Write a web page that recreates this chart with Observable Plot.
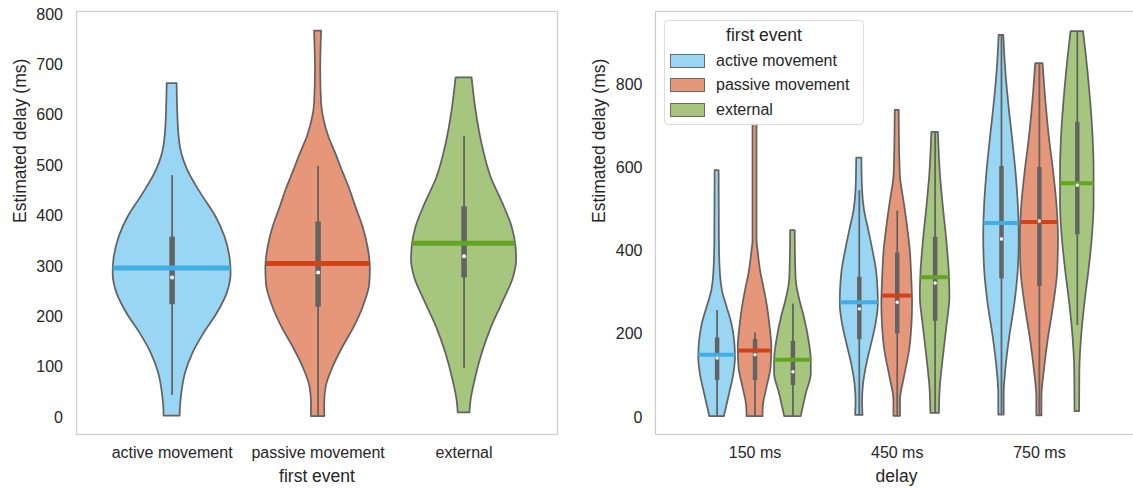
<!DOCTYPE html>
<html><head><meta charset="utf-8">
<script src="https://cdn.jsdelivr.net/npm/d3@7"></script>
<script src="https://cdn.jsdelivr.net/npm/@observablehq/plot@0.6"></script>
<style>
body{margin:0;background:#fff;overflow:hidden;font-family:"Liberation Sans",Arial,sans-serif;}
#wrap{position:relative;width:1133px;height:488px;overflow:hidden;background:#fff;}
#left{position:absolute;left:0;top:0;width:566px;}
#right{position:absolute;left:566px;top:0;width:580px;}
#wrap svg{max-width:none !important;height:488px !important;display:block;}
.legend{position:absolute;left:664px;top:20px;width:200px;height:105px;box-sizing:border-box;border:1px solid #dcdcdc;border-radius:4px;background:rgba(255,255,255,0.85);color:#262626;}
.legend .title{position:absolute;left:0;width:100%;top:3px;text-align:center;font-size:17.5px;line-height:22px;}
.legend .entry{position:absolute;left:5px;height:20px;}
.legend .patch{position:absolute;left:0;top:3px;width:33px;height:12px;border:1px solid #6a6a6a;}
.legend .lab{position:absolute;left:46px;top:0px;font-size:16px;line-height:20px;white-space:nowrap;}
</style></head>
<body>
<div id="wrap"><div id="left"></div><div id="right"></div><div class="legend" id="legend"></div></div>
<script>
// ---------- data ----------
const firstEvents = ["active movement", "passive movement", "external"];
const delays = ["150 ms", "450 ms", "750 ms"];
const fillColors = ["#98d6f3", "#e6977a", "#a6c67e"];
const meanColors = ["#41ade5", "#d0421a", "#64a423"];
const yTicksLeft = [0, 100, 200, 300, 400, 500, 600, 700, 800];
const yTicksRight = [0, 200, 400, 600, 800];

// violin outlines: [estimated delay (ms), half width (category units)]
const shapeActive = [[663,0.034],[576,0.043],[524,0.066],[490,0.108],[444,0.199],[398,0.301],[358,0.363],[312,0.399],[286,0.404],[246,0.377],[206,0.308],[167,0.219],[127,0.142],[87,0.091],[47,0.066],[20,0.057],[3,0.055]];
const shapePassive = [[767,0.024],[689,0.018],[623,0.024],[590,0.041],[556,0.075],[524,0.121],[490,0.166],[457,0.212],[417,0.260],[378,0.308],[338,0.342],[298,0.358],[265,0.354],[226,0.318],[179,0.247],[140,0.171],[100,0.103],[60,0.055],[27,0.045],[2,0.046]];
const shapeExternal = [[674,0.055],[609,0.082],[543,0.123],[477,0.185],[424,0.267],[378,0.329],[338,0.356],[312,0.360],[279,0.340],[232,0.271],[179,0.188],[126,0.123],[73,0.075],[34,0.048],[9,0.040]];

const shape150Active = [[593,0.014],[425,0.016],[346,0.023],[305,0.037],[265,0.070],[225,0.104],[185,0.123],[145,0.129],[105,0.118],[57,0.088],[2,0.051]];
const shape150Passive = [[705,0.014],[425,0.014],[401,0.021],[346,0.042],[305,0.067],[265,0.088],[217,0.106],[169,0.118],[121,0.113],[73,0.085],[25,0.058],[2,0.056]];
const shape150External = [[449,0.016],[385,0.018],[329,0.023],[281,0.049],[241,0.080],[185,0.113],[137,0.129],[105,0.129],[57,0.094],[2,0.058]];
const shape450Active = [[623,0.018],[545,0.023],[497,0.037],[449,0.067],[401,0.096],[353,0.121],[305,0.132],[273,0.134],[225,0.118],[177,0.087],[129,0.054],[81,0.030],[41,0.023],[5,0.026]];
const shape450Passive = [[738,0.014],[625,0.018],[577,0.023],[521,0.047],[465,0.070],[401,0.092],[337,0.102],[273,0.108],[225,0.104],[161,0.087],[97,0.051],[41,0.023],[3,0.023]];
const shape450External = [[685,0.023],[585,0.037],[505,0.058],[425,0.082],[345,0.100],[289,0.104],[225,0.085],[145,0.058],[65,0.035],[10,0.030]];
const shape750Active = [[918,0.016],[834,0.030],[754,0.051],[673,0.077],[593,0.101],[513,0.118],[433,0.125],[353,0.118],[273,0.094],[193,0.058],[113,0.030],[57,0.019],[6,0.019]];
const shape750Passive = [[850,0.026],[754,0.047],[673,0.070],[593,0.099],[513,0.123],[433,0.134],[353,0.129],[273,0.102],[193,0.065],[113,0.035],[49,0.018],[4,0.018]];
const shape750External = [[927,0.044],[834,0.074],[754,0.095],[673,0.111],[593,0.118],[513,0.118],[433,0.106],[353,0.082],[273,0.053],[193,0.030],[113,0.018],[14,0.016]];

// box statistics, left panel (by first event)
const leftWhiskerLo = [44, 2, 97];
const leftWhiskerHi = [480, 499, 558];
const leftQ1 = [224, 219, 277];
const leftQ3 = [358, 388, 418];
const leftMedian = [278, 288, 320];
const leftMean = [297, 306, 346];

// box statistics, right panel: [delay][first event]
const rightWhiskerLo = [[2,2,2],[5,3,10],[6,4,221]];
const rightWhiskerHi = [[257,203,273],[545,496,685],[918,850,927]];
const rightQ1 = [[89,89,77],[187,201,231],[333,315,439]];
const rightQ3 = [[191,187,183],[337,395,433],[603,601,709]];
const rightMedian = [[143,151,110],[261,277,323],[429,472,558]];
const rightMean = [[151,161,139],[277,293,337],[467,470,563]];

// ---------- build tables ----------
function halfAt(shape, v) {
  const s = shape.slice().sort((a, b) => a[0] - b[0]);
  for (let i = 0; i < s.length - 1; i++) {
    if (v >= s[i][0] && v <= s[i+1][0]) {
      const t = (v - s[i][0]) / (s[i+1][0] - s[i][0]);
      return s[i][1] + t * (s[i+1][1] - s[i][1]);
    }
  }
  return s[0][1];
}
function buildViolins(list) {
  const outline = [], stats = [];
  list.forEach((d, id) => {
    d.shape.slice().sort((a, b) => a[0] - b[0]).forEach(([v, w]) => {
      outline.push({id, v, x1: d.pos - w, x2: d.pos + w, fill: d.fill});
    });
    const hw = halfAt(d.shape, d.mean);
    stats.push({pos: d.pos, lo: d.lo, hi: d.hi, q1: d.q1, q3: d.q3, median: d.median,
                mean: d.mean, m1: d.pos - hw, m2: d.pos + hw, meanColor: d.meanColor});
  });
  return {outline, stats};
}
const leftShapes = [shapeActive, shapePassive, shapeExternal];
const left = buildViolins(firstEvents.map((e, i) => ({
  pos: i, shape: leftShapes[i], fill: fillColors[i], meanColor: meanColors[i],
  lo: leftWhiskerLo[i], hi: leftWhiskerHi[i], q1: leftQ1[i], q3: leftQ3[i],
  median: leftMedian[i], mean: leftMean[i]
})));
const rightShapes = [
  [shape150Active, shape150Passive, shape150External],
  [shape450Active, shape450Passive, shape450External],
  [shape750Active, shape750Passive, shape750External]
];
const dodge = 0.8 / 3;
const rightList = [];
delays.forEach((dl, g) => firstEvents.forEach((e, h) => rightList.push({
  pos: g + (h - 1) * dodge, shape: rightShapes[g][h], fill: fillColors[h], meanColor: meanColors[h],
  lo: rightWhiskerLo[g][h], hi: rightWhiskerHi[g][h], q1: rightQ1[g][h], q3: rightQ3[g][h],
  median: rightMedian[g][h], mean: rightMean[g][h]
})));
const right = buildViolins(rightList);

const FONT = '"Liberation Sans", Arial, sans-serif';
function violinMarks(t, boxW, meanW, dotR) {
  return [
    Plot.areaX(t.outline, {y: "v", x1: "x1", x2: "x2", z: "id", fill: "fill", stroke: "#636363", strokeWidth: 1.75, curve: "monotone-y"}),
    Plot.ruleX(t.stats, {x: "pos", y1: "lo", y2: "hi", stroke: "#636363", strokeWidth: 1.8}),
    Plot.ruleX(t.stats, {x: "pos", y1: "q1", y2: "q3", stroke: "#636363", strokeWidth: boxW}),
    Plot.ruleY(t.stats, {y: "mean", x1: "m1", x2: "m2", stroke: "meanColor", strokeWidth: meanW}),
    Plot.dot(t.stats, {x: "pos", y: "median", r: dotR, fill: "white", stroke: null})
  ];
}

const leftPlot = Plot.plot({
  width: 566, height: 488, marginLeft: 76, marginRight: 9, marginTop: 11, marginBottom: 54,
  x: {domain: [-0.655, 2.64]},
  y: {domain: [-33.7, 806]},
  color: {type: "identity"},
  style: {fontFamily: FONT, color: "#262626", background: "white", overflow: "visible", maxWidth: "none"},
  marks: [
    Plot.axisY({ticks: yTicksLeft, tickSize: 0, tickPadding: 13.5, fontSize: 16, label: null, tickFormat: d => String(d)}),
    Plot.axisX({ticks: [0, 1, 2], tickSize: 0, tickPadding: 12, fontSize: 16, label: null, tickFormat: i => firstEvents[i]}),
    Plot.text(["first event"], {text: d => d, frameAnchor: "bottom", dy: 47, fontSize: 17.5, fill: "#262626"}),
    Plot.text(["Estimated delay (ms)"], {text: d => d, frameAnchor: "left", rotate: -90, dx: -56, fontSize: 17.5, fill: "#262626"}),
    ...violinMarks(left, 5.5, 5, 2),
    Plot.frame({stroke: "#cccccc", strokeWidth: 1.25})
  ]
});
document.getElementById("left").appendChild(leftPlot);

const rightPlot = Plot.plot({
  width: 580, height: 488, marginLeft: 89, marginRight: 9, marginTop: 11, marginBottom: 54,
  x: {domain: [-0.70, 2.69]},
  y: {domain: [-40.8, 975.4]},
  color: {type: "identity"},
  style: {fontFamily: FONT, color: "#262626", background: "white", overflow: "visible", maxWidth: "none"},
  marks: [
    Plot.axisY({ticks: yTicksRight, tickSize: 0, tickPadding: 13, fontSize: 16, label: null, tickFormat: d => String(d)}),
    Plot.axisX({ticks: [0, 1, 2], tickSize: 0, tickPadding: 12, fontSize: 16, label: null, tickFormat: i => delays[i]}),
    Plot.text(["delay"], {text: d => d, frameAnchor: "bottom", dy: 47, fontSize: 17.5, fill: "#262626"}),
    Plot.text(["Estimated delay (ms)"], {text: d => d, frameAnchor: "left", rotate: -90, dx: -56, fontSize: 17.5, fill: "#262626"}),
    ...violinMarks(right, 4.5, 4, 1.7),
    Plot.frame({stroke: "#cccccc", strokeWidth: 1.25})
  ]
});
document.getElementById("right").appendChild(rightPlot);

// legend
const lg = document.getElementById("legend");
const tt = document.createElement("div"); tt.className = "title"; tt.textContent = "first event"; lg.appendChild(tt);
const entryTops = [30, 54, 79];
firstEvents.forEach((e, i) => {
  const en = document.createElement("div"); en.className = "entry"; en.style.top = entryTops[i] + "px";
  const p = document.createElement("div"); p.className = "patch"; p.style.background = fillColors[i];
  const l = document.createElement("div"); l.className = "lab"; l.textContent = e;
  en.appendChild(p); en.appendChild(l); lg.appendChild(en);
});
</script>
</body></html>
